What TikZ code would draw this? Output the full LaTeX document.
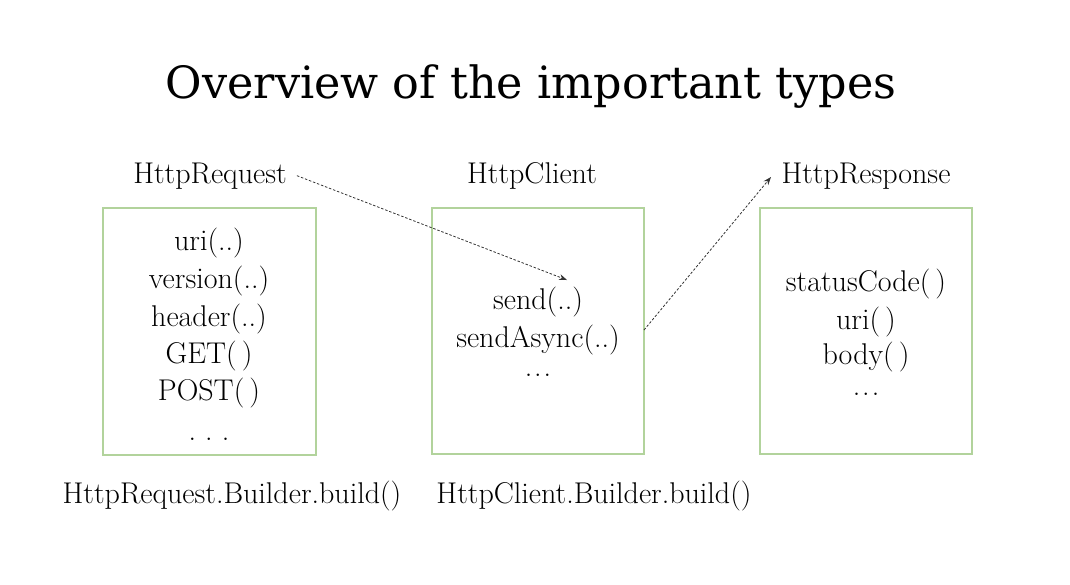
\documentclass[tikz,border=0pt]{standalone}
\usepackage{fontspec}
\newfontfamily\titlefont{DejaVu Serif}
\usetikzlibrary{arrows.meta}
\definecolor{boxgreen}{HTML}{B2D39C}
\definecolor{linkgray}{HTML}{333333}
\newcommand{\tightdots}{.\kern2pt.\kern2pt.}
\begin{document}
\begin{tikzpicture}[x=1pt,y=-1pt,
  title/.style={anchor=base,inner sep=0pt,font=\titlefont\fontsize{44.5}{52}\selectfont},
  label/.style={anchor=base,inner sep=0pt,font=\fontsize{30}{36}\selectfont},
  item/.style={anchor=base,inner sep=0pt,font=\fontsize{30}{36}\selectfont},
  typebox/.style={draw=boxgreen,line width=1.2pt},
  link/.style={draw=linkgray,dashed,dash pattern=on 2.5pt off 1.8pt,line width=0.8pt,-{Stealth[length=8pt,width=6pt]}}]
\useasboundingbox (0,0) rectangle (1070,584);

% title
\node[title] (title) at (531,98) {Overview of the important types};

% type names
\node[label] (reqname) at (210,183) {HttpRequest};
\node[label] (cliname) at (532,183) {HttpClient};
\node[label] (resname) at (866,183) {HttpResponse};

% boxes
\draw[typebox] (103,208) rectangle (316,455);
\draw[typebox] (432,208) rectangle (644,454);
\draw[typebox] (760,208) rectangle (972,454);
\coordinate (clientright) at (644,330);

% request methods
\node[item] (r1) at (209,250) {uri(..)};
\node[item] (r2) at (209,288) {version(..)};
\node[item] (r3) at (209,326) {header(..)};
\node[item] (r4) at (209,363) {GET(\,)};
\node[item] (r5) at (209,400) {POST(\,)};
\node[item] (r6) at (209,440) {.\ .\ .};

% client methods
\node[item] (c1) at (538,309) {send(..)};
\node[item] (c2) at (538,347) {sendAsync(..)};
\node[item] (c3) at (538,376) {\tightdots};

% response methods
\node[item] (s1) at (866,291) {statusCode(\,)};
\node[item] (s2) at (866,329) {uri(\,)};
\node[item] (s3) at (866,364) {body(\,)};
\node[item] (s4) at (866,395) {\tightdots};

% builders
\node[label] (reqbuild) at (232,503) {HttpRequest.Builder.build()};
\node[label] (clibuild) at (594,503) {HttpClient.Builder.build()};

% flow of a request through the client
\coordinate (sendtarget) at (567,280);
\draw[link] ([xshift=10pt]reqname.east) -- (sendtarget);
\coordinate (resptarget) at (771,177);
\draw[link] (clientright) -- (resptarget);
\end{tikzpicture}
\end{document}
